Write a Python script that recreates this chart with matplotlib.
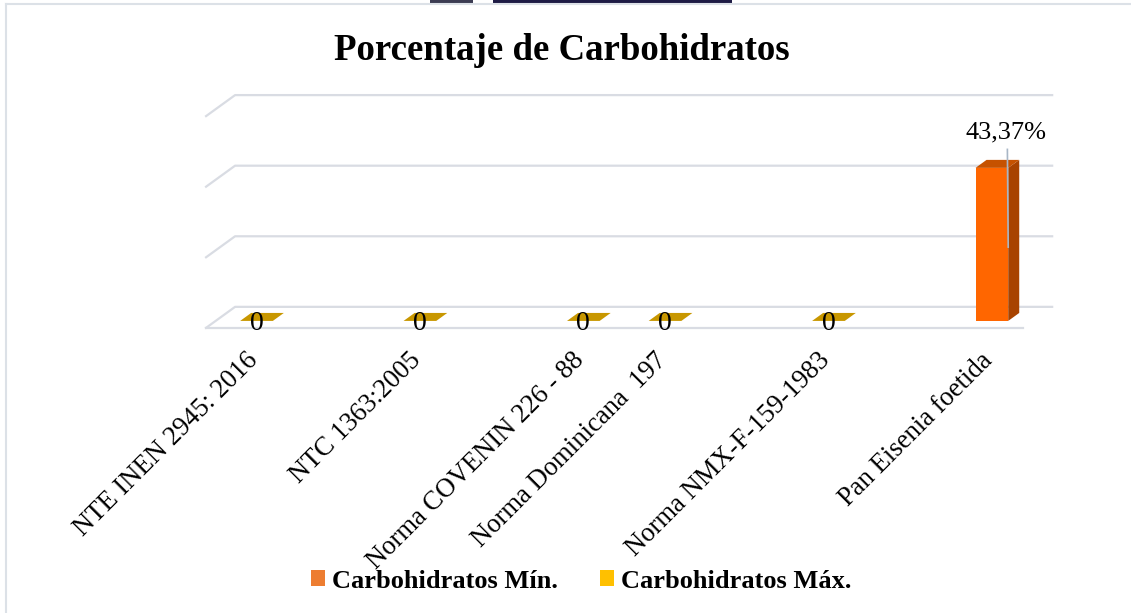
import matplotlib
matplotlib.use("Agg")
import matplotlib.pyplot as plt
from matplotlib.patches import Polygon, Patch, Rectangle
from matplotlib.lines import Line2D

# ---------------- data ----------------
categories = ["NTE INEN 2945: 2016", "", "NTC 1363:2005", "", "Norma COVENIN 226 - 88",
              "Norma Dominicana  197", "", "Norma NMX-F-159-1983", "", "Pan Eisenia foetida"]
carb_min = [None, None, None, None, None, None, None, None, None, 43.37]
carb_max = [0, None, 0, None, 0, 0, None, 0, None, None]
min_labels = ["", "", "", "", "", "", "", "", "", "43,37%"]
max_labels = ["0", "", "0", "", "0", "0", "", "0", "", ""]
series_names = ["Carbohidratos Mín.", "Carbohidratos Máx."]
legend_colors = ["#ED7D31", "#FFC000"]
grid_values = [0, 20, 40, 60]

# ---------------- styling ----------------
SERIF = ["Liberation Serif", "DejaVu Serif"]
W, H = 1131, 613
fig = plt.figure(figsize=(W / 100, H / 100), dpi=100)
ax = fig.add_axes([0, 0, 1, 1])
ax.set_xlim(-3.022, 10.82)
ax.set_ylim(-80.8, 92.9)
ax.axis("off")

DX, DY = 0.355, 5.95          # full-depth offset (slot units, value units)
D_FRONT, D_BACK = 0.33, 0.71  # bar depth position
BW = 0.2                      # bar half-width (slots)
X_LEFT, X_RIGHT = -0.5, 9.5
GRID_C = "#D9DCE3"


def P(x, v, d):
    return (x + d * DX, v + d * DY)


# gridlines: back wall lines + left wall diagonals
for g in grid_values:
    ax.add_line(Line2D(*zip(P(X_LEFT, g, 0), P(X_LEFT, g, 1), P(X_RIGHT, g, 1)),
                       color=GRID_C, lw=1.6, zorder=1))
# floor front line
ax.add_line(Line2D(*zip(P(X_LEFT, 0, 0), P(X_RIGHT, 0, 0)), color=GRID_C, lw=1.6, zorder=1))


def bar3d(xc, v, front, side, top):
    x0, x1 = xc - BW, xc + BW
    if v > 0:
        ax.add_patch(Polygon([P(x1, 0, D_FRONT), P(x1, 0, D_BACK), P(x1, v, D_BACK), P(x1, v, D_FRONT)],
                             closed=True, fc=side, ec="none", zorder=3))
        ax.add_patch(Polygon([P(x0, 0, D_FRONT), P(x1, 0, D_FRONT), P(x1, v, D_FRONT), P(x0, v, D_FRONT)],
                             closed=True, fc=front, ec="none", zorder=4))
    ax.add_patch(Polygon([P(x0, v, D_FRONT), P(x1, v, D_FRONT), P(x1, v, D_BACK), P(x0, v, D_BACK)],
                         closed=True, fc=top, ec="none", zorder=4))


for i, v in enumerate(carb_max):
    if v is not None:
        bar3d(i, v, "#FFC000", "#A87F00", "#C89700")
        fx, fy = P(i, v, D_FRONT)
        ax.text(fx, fy - 0.6, max_labels[i], ha="center", va="center", fontsize=20,
                family=SERIF, color="black", zorder=6)

for i, v in enumerate(carb_min):
    if v is not None:
        bar3d(i, v, "#FF6600", "#A84300", "#C65200")
        fx, fy = P(i, v, D_FRONT)
        lx, ly = fx + 0.17, v + 12.0
        ax.add_line(Line2D([lx + 0.02, lx + 0.03], [ly - 4.8, ly - 32.5],
                           color="#A8B6C6", lw=1.2, zorder=5))
        ax.text(lx, ly, min_labels[i], ha="center", va="center", fontsize=19,
                family=SERIF, color="black", zorder=6)

# category labels
for i, c in enumerate(categories):
    if c:
        fx, fy = P(i, 0, D_FRONT)
        ax.text(fx - 0.14, fy - 7.6, c, rotation=45, rotation_mode="anchor",
                ha="right", va="top", fontsize=19.2, family=SERIF, color="black")

# title
fig.text(0.497, 0.918, "Porcentaje de Carbohidratos", ha="center", va="center",
         fontsize=26.6, fontweight="bold", family=SERIF)

# legend
handles = [Patch(facecolor=c, edgecolor="none") for c in legend_colors]
leg = fig.legend(handles, series_names, loc="center", bbox_to_anchor=(0.514, 0.052),
                 ncol=2, frameon=False, handlelength=0.53, handleheight=0.53,
                 handletextpad=0.27, columnspacing=1.6,
                 prop={"family": SERIF, "size": 19, "weight": "bold"})

# chart border (light) and top strip
fig.add_artist(Line2D([6 / W, 6 / W], [0, 1 - 4 / H], transform=fig.transFigure, color="#DCE1E7", lw=1.5))
fig.add_artist(Line2D([6 / W, 1], [1 - 4 / H, 1 - 4 / H], transform=fig.transFigure, color="#DCE1E7", lw=1.5))
fig.add_artist(Rectangle((430 / W, 1 - 2.5 / H), 43 / W, 2.5 / H, transform=fig.transFigure,
                         fc="#3C3C52", ec="none"))
fig.add_artist(Rectangle((493 / W, 1 - 2.5 / H), 239 / W, 2.5 / H, transform=fig.transFigure,
                         fc="#1E1B45", ec="none"))

fig.savefig("out.png", dpi=100)
